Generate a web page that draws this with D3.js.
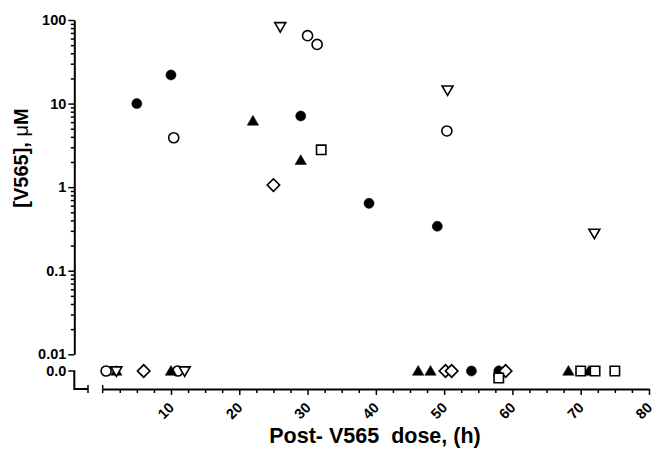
<!DOCTYPE html>
<html>
<head>
<meta charset="utf-8">
<script src="https://cdn.jsdelivr.net/npm/d3@7"></script>
<style>
  body { margin: 0; background: #fff; }
  svg { display: block; font-family: "Liberation Sans", Arial, sans-serif; }
  .tick text { font-weight: bold; font-size: 14.5px; fill: #000; font-family: "Liberation Sans", Arial, sans-serif; }
</style>
</head>
<body>
<div id="chart"></div>
<script>
// Data: [hours, concentration µM]; 0 means below detection (drawn on the 0.0 row)
const filledCircle = [[5, 10], [10, 22], [29, 7.1], [39, 0.64], [49, 0.34], [54, 0], [58, 0]];
const openCircle = [[30, 65], [31.4, 51], [10.4, 3.9], [50.4, 4.7], [0.5, 0], [11, 0]];
const filledTriangle = [[22, 6.2], [29, 2.1], [2, 0], [10, 0], [46.2, 0], [48, 0], [58, 0], [68.2, 0], [71.2, 0]];
const openTriangleDown = [[26, 83], [50.5, 14.5], [72, 0.28], [2, 0], [12, 0]];
const openDiamond = [[25, 1.06], [6, 0], [50.2, 0], [51.1, 0], [59, 0]];
const openSquare = [[32, 2.8], [58, 0], [70, 0], [72.1, 0], [75, 0]];

const yMajorTicks = [0.01, 0.1, 1, 10, 100];
const yTickLabels = ["0.01", "0.1", "1", "10", "100"];
const xMajorTicks = [10, 20, 30, 40, 50, 60, 70, 80];

const series = [
  { name: "filledCircle", data: filledCircle, shape: "circle", fill: true },
  { name: "openCircle", data: openCircle, shape: "circle", fill: false },
  { name: "filledTriangle", data: filledTriangle, shape: "triUp", fill: true },
  { name: "openTriangleDown", data: openTriangleDown, shape: "triDown", fill: false },
  { name: "openDiamond", data: openDiamond, shape: "diamond", fill: false },
  { name: "openSquare", data: openSquare, shape: "square", fill: false }
];

const width = 655, height = 452;
const svg = d3.select('#chart').append('svg')
  .attr('width', width).attr('height', height);

const x = d3.scaleLinear().domain([0, 80]).range([102.7, 649]);
const y = d3.scaleLog().domain([0.01, 100]).range([354.3, 20]);
const axisX = 74.3;      // y axis position
const zeroY = 371;       // the 0.0 row
const bottomY = 389;     // x axis position
const capX = 88;         // end of the lower y-axis segment

// ---- Y axis, log part
const yMinor = [];
[0.01, 0.1, 1, 10].forEach(d => { for (let k = 2; k <= 9; k++) yMinor.push(d * k); });

const yAx = svg.append('g').attr('transform', `translate(${axisX},0)`);
yAx.call(d3.axisLeft(y).tickValues(yMinor).tickSize(3.5).tickSizeOuter(0).tickFormat(''));
yAx.call(g => g.selectAll('.domain').remove());
svg.append('g').attr('transform', `translate(${axisX},0)`)
  .call(d3.axisLeft(y).tickValues(yMajorTicks).tickSize(6).tickSizeOuter(0)
    .tickFormat((d, i) => yTickLabels[i]).tickPadding(2));

// ---- Y axis, zero segment (bracket shape)
const zeroG = svg.append('g').attr('stroke', '#000').attr('fill', 'none');
zeroG.append('path').attr('stroke-width', 2)
  .attr('d', `M${axisX},${zeroY} V${bottomY} H${capX}`);
zeroG.append('line').attr('stroke-width', 1.5)
  .attr('x1', axisX - 6).attr('x2', axisX + 1).attr('y1', zeroY).attr('y2', zeroY);
zeroG.append('line').attr('stroke-width', 1.5)
  .attr('x1', capX).attr('x2', capX).attr('y1', bottomY - 4).attr('y2', bottomY + 4);
svg.append('text').attr('x', axisX - 8).attr('y', zeroY).attr('dy', '0.35em')
  .attr('text-anchor', 'end').attr('font-size', 14.5).attr('font-weight', 'bold')
  .text('0.0');

// ---- X axis
const xMinor = d3.range(2.5, 80, 2.5).filter(d => d % 10 !== 0);
svg.append('g').attr('transform', `translate(0,${bottomY})`)
  .call(d3.axisBottom(x).tickValues(xMinor).tickSize(4).tickSizeOuter(0).tickFormat(''))
  .call(g => g.select('.domain').remove());
const xAx = svg.append('g').attr('transform', `translate(0,${bottomY})`)
  .call(d3.axisBottom(x).tickValues(xMajorTicks).tickSize(6).tickSizeOuter(0));
xAx.selectAll('.tick text')
  .attr('text-anchor', 'end')
  .attr('x', 0).attr('y', 0).attr('dy', '0.35em')
  .attr('transform', 'translate(0,16) rotate(-45)');
svg.selectAll('.domain').attr('stroke-width', 2).attr('stroke', '#000');
svg.selectAll('.tick line').attr('stroke-width', 1.5).attr('stroke', '#000');
svg.append('line').attr('stroke', '#000').attr('stroke-width', 1.5)
  .attr('x1', x(0)).attr('x2', x(0)).attr('y1', bottomY - 4).attr('y2', bottomY + 4);

// ---- Axis titles
const yTitle = svg.append('text')
  .attr('transform', 'translate(28,158) rotate(-90)')
  .attr('text-anchor', 'middle').attr('font-size', 20).attr('font-weight', 'bold');
yTitle.append('tspan').text('[V565], ');
yTitle.append('tspan').attr('font-weight', 'normal').text('μ');
yTitle.append('tspan').text('M');

svg.append('text').attr('x', 375).attr('y', 443)
  .attr('text-anchor', 'middle').attr('font-size', 21.5).attr('font-weight', 'bold')
  .attr('xml:space', 'preserve').style('white-space', 'pre')
  .text('Post- V565  dose, (h)');

// ---- Points
const shapes = {
  circle: d3.symbol().type(d3.symbolCircle).size(80),
  triUp: d3.symbol().type(d3.symbolTriangle).size(56),
  triDown: d3.symbol().type(d3.symbolTriangle).size(52),
  diamond: d3.symbol().type(d3.symbolSquare).size(78),
  square: d3.symbol().type(d3.symbolSquare).size(88)
};

const zeroSeen = [];
series.forEach(s => {
  const g = svg.append('g');
  s.data.forEach(([hx, v]) => {
    let py;
    if (v > 0) {
      py = y(v);
    } else {
      // nudge down when a third marker lands on the same zero spot
      const n = zeroSeen.filter(t => Math.abs(t - hx) < 0.5).length;
      zeroSeen.push(hx);
      py = zeroY + (n >= 2 ? 7 : 0);
    }
    let rot = 0;
    if (s.shape === 'triDown') rot = 180;
    if (s.shape === 'diamond') rot = 45;
    const dyTri = s.shape === 'triUp' ? 1 : (s.shape === 'triDown' ? -1 : 0);
    g.append('path')
      .attr('d', shapes[s.shape]())
      .attr('transform', `translate(${x(hx)},${py + dyTri}) rotate(${rot})`)
      .attr('fill', s.fill ? '#000' : '#fff')
      .attr('stroke', '#000')
      .attr('stroke-width', s.fill ? 0.5 : 1.6);
  });
});
</script>
</body>
</html>
